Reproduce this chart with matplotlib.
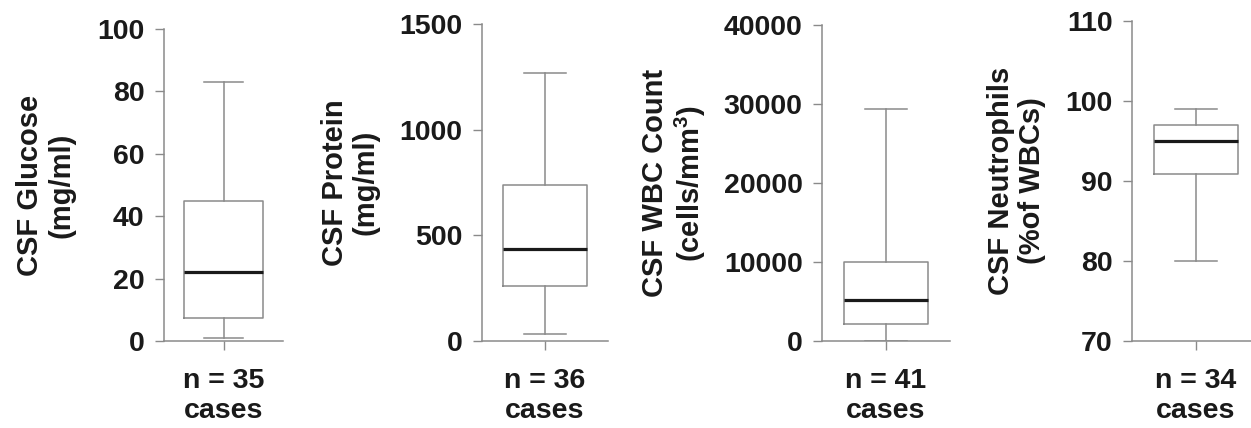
import matplotlib
matplotlib.use("Agg")
import matplotlib.pyplot as plt

# ---- data ----
labels = ["CSF Glucose\n(mg/ml)", "CSF Protein\n(mg/ml)",
          "CSF WBC Count\n(cells/mm$^\\mathregular{3}$)", "CSF Neutrophils\n(%of WBCs)"]
n_cases = [35, 36, 41, 34]
whis_low = [1, 35, 50, 80]
q1 = [7.3, 262, 2150, 90.8]
median = [22, 434, 5150, 95]
q3 = [45, 737, 9950, 97]
whis_high = [83, 1270, 29400, 99]
ylims = [(0, 100), (0, 1500), (0, 40000), (70, 110)]
yticks = [[0, 20, 40, 60, 80, 100], [0, 500, 1000, 1500],
          [0, 10000, 20000, 30000, 40000], [70, 80, 90, 100, 110]]

# ---- layout (pixels in a 1251x428 figure) ----
W, H = 1251, 428
panels_px = [(164, 119, 29), (482, 126, 24.3), (822, 128, 25.3), (1132, 128, 20.7)]
bottom_px = 341
labelpads = [16, 14, 11, 14]

plt.rcParams['font.family'] = ['Liberation Sans', 'DejaVu Sans']
plt.rcParams['mathtext.fontset'] = 'custom'
plt.rcParams['mathtext.rm'] = 'Liberation Sans:bold'

gray = '#8a8a8a'
txt = '#1a1a1a'

fig = plt.figure(figsize=(W / 100, H / 100), dpi=100)

for i in range(4):
    lx, wpx, top = panels_px[i]
    ax = fig.add_axes([lx / W, (H - bottom_px) / H, wpx / W, (bottom_px - top) / H])
    stats = [dict(whislo=whis_low[i], q1=q1[i], med=median[i], q3=q3[i],
                  whishi=whis_high[i], fliers=[])]
    ax.bxp(stats, positions=[1], widths=0.66, showfliers=False,
           boxprops=dict(color=gray, linewidth=1.1),
           whiskerprops=dict(color=gray, linewidth=1.1),
           capprops=dict(color=gray, linewidth=1.1),
           medianprops=dict(color=txt, linewidth=2.3))
    ax.set_xlim(0.5, 1.5)
    ax.set_ylim(*ylims[i])
    ax.set_yticks(yticks[i])
    ax.set_yticklabels([str(t) for t in yticks[i]], fontsize=20.5,
                       fontweight='bold', color=txt)
    ax.set_xticks([1])
    ax.set_xticklabels([f"n = {n_cases[i]}\ncases"], fontsize=20.5,
                       fontweight='bold', color=txt)
    ax.tick_params(axis='y', length=6.5, width=1, color=gray, pad=7.5)
    ax.tick_params(axis='x', length=6.5, width=1, color=gray, pad=13)
    for s in ['top', 'right']:
        ax.spines[s].set_visible(False)
    for s in ['left', 'bottom']:
        ax.spines[s].set_color(gray)
        ax.spines[s].set_linewidth(1.1)
    ax.spines['left'].set_zorder(0)
    ax.set_ylabel(labels[i], fontsize=21, fontweight='bold', color=txt,
                  labelpad=labelpads[i], linespacing=1.15)
    ax.patch.set_alpha(0)

fig.savefig("out.png", dpi=100)
